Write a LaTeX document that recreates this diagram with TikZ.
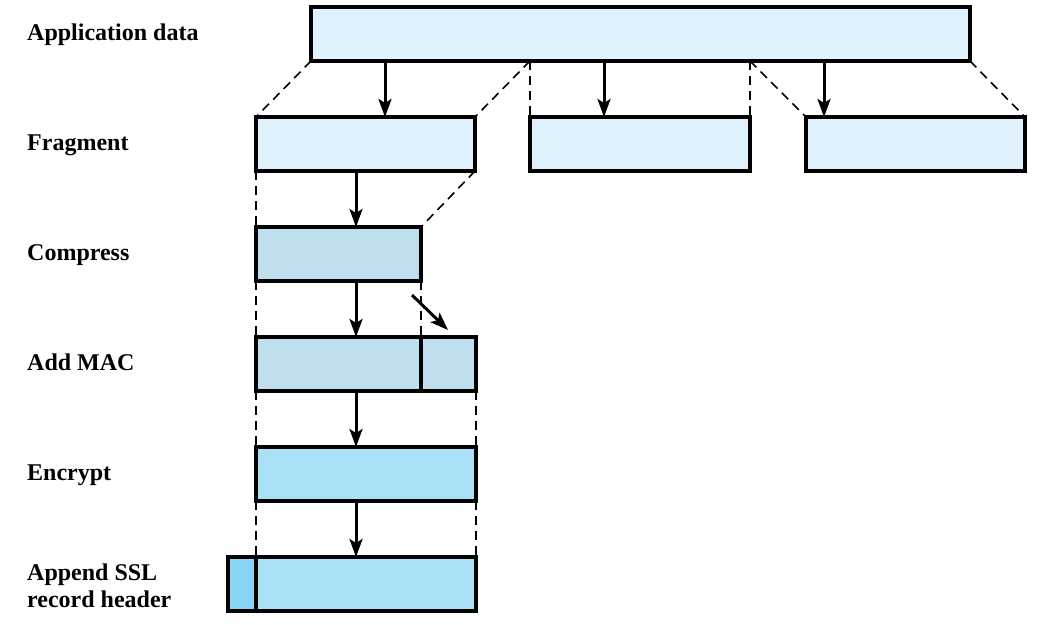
\documentclass[tikz,border=0pt]{standalone}
\usepackage{fontspec}
\setmainfont{Liberation Serif}
\usetikzlibrary{arrows.meta}
\definecolor{lightA}{HTML}{E0F2FC}
\definecolor{midB}{HTML}{C0DFEE}
\definecolor{encC}{HTML}{ABE1F7}
\definecolor{hdrD}{HTML}{88D4F3}
\tikzset{
  blk/.style={draw=black, line width=3.2pt, inner sep=0pt, outer sep=0pt},
  arr/.style={line width=3pt, -{Stealth[length=18pt,width=13pt,inset=4pt]}},
  dsh/.style={line width=1.6pt, dash pattern=on 9pt off 6pt},
  lbl/.style={font=\bfseries\fontsize{24}{27}\selectfont, anchor=base west, align=left, inner sep=0pt}
}
\begin{document}
\begin{tikzpicture}[x=1pt,y=-1pt]
\useasboundingbox (0,0) rectangle (1054,624);
% boxes
\node[blk, fill=lightA, minimum width=659pt, minimum height=54pt, anchor=north west] (app) at (311,7) {};
\node[blk, fill=lightA, minimum width=219pt, minimum height=54pt, anchor=north west] (f1) at (256,117) {};
\node[blk, fill=lightA, minimum width=220pt, minimum height=54pt, anchor=north west] (f2) at (530,117) {};
\node[blk, fill=lightA, minimum width=219pt, minimum height=54pt, anchor=north west] (f3) at (806,117) {};
\node[blk, fill=midB, minimum width=165pt, minimum height=54pt, anchor=north west] (cmp) at (256,227) {};
\node[blk, fill=midB, minimum width=165pt, minimum height=54pt, anchor=north west] (mac1) at (256,337) {};
\node[blk, fill=midB, minimum width=55pt, minimum height=54pt, anchor=north west] (mac2) at (421,337) {};
\node[blk, fill=encC, minimum width=220pt, minimum height=54pt, anchor=north west] (enc) at (256,447) {};
\node[blk, fill=hdrD, minimum width=28pt, minimum height=54pt, anchor=north west] (hdr) at (228,557) {};
\node[blk, fill=encC, minimum width=220pt, minimum height=54pt, anchor=north west] (rec) at (256,557) {};
% split points on app
\coordinate (s1) at ([xshift=219pt]app.south west);
\coordinate (s2) at ([xshift=439pt]app.south west);
% dashed lines
\draw[dsh] (app.south west) -- (f1.north west);
\draw[dsh] (s1) -- (f1.north east);
\draw[dsh] (s1) -- (f2.north west);
\draw[dsh] (s2) -- (f2.north east);
\draw[dsh] (s2) -- (f3.north west);
\draw[dsh] (app.south east) -- (f3.north east);
\draw[dsh] (f1.south west) -- (cmp.north west);
\draw[dsh] (f1.south east) -- (cmp.north east);
\draw[dsh] (cmp.south west) -- (mac1.north west);
\draw[dsh] (cmp.south east) -- (mac1.north east);
\draw[dsh] (mac1.south west) -- (enc.north west);
\draw[dsh] (mac2.south east) -- (enc.north east);
\draw[dsh] (enc.south west) -- (rec.north west);
\draw[dsh] (enc.south east) -- (rec.north east);
% arrows
\draw[arr] (app.south -| 385,0) -- (f1.north -| 385,0);
\draw[arr] (app.south -| 604,0) -- (f2.north -| 604,0);
\draw[arr] (app.south -| 824,0) -- (f3.north -| 824,0);
\draw[arr] (f1.south -| 356,0) -- (cmp.north -| 356,0);
\draw[arr] (cmp.south -| 356,0) -- (mac1.north -| 356,0);
\coordinate (m0) at (412,295);
\coordinate (m1) at (448,330);
\draw[arr] (m0) -- (m1);
\draw[arr] (mac1.south -| 356,0) -- (enc.north -| 356,0);
\draw[arr] (enc.south -| 356,0) -- (rec.north -| 356,0);
% labels
\node[lbl] (l1) at (27,40) {Application data};
\node[lbl] (l2) at (27,150) {Fragment};
\node[lbl] (l3) at (27,260) {Compress};
\node[lbl] (l4) at (27,370) {Add MAC};
\node[lbl] (l5) at (27,480) {Encrypt};
\node[lbl] (l6) at (27,607) {Append SSL\\record header};
\end{tikzpicture}
\end{document}
